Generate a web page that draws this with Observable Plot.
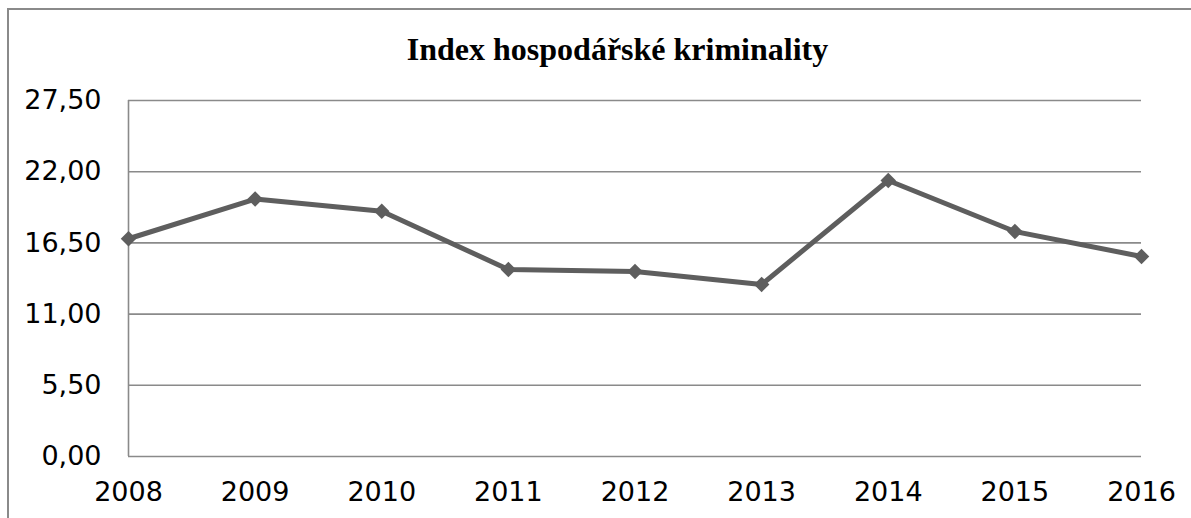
<!DOCTYPE html>
<html>
<head>
<meta charset="utf-8">
<script src="https://cdn.jsdelivr.net/npm/d3@7"></script>
<script src="https://cdn.jsdelivr.net/npm/@observablehq/plot@0.6"></script>
<style>
  html, body { margin: 0; padding: 0; background: #fff; }
  #wrap { position: relative; width: 1191px; height: 518px; overflow: hidden; }
  #frame { position: absolute; left: 7px; top: 8px; width: 1200px; height: 530px; border-left: 2px solid #8a8a8a; border-top: 2px solid #8a8a8a; box-sizing: border-box; }
  #title { position: absolute; left: 0; top: 33px; width: 1235px; text-align: center; font-family: "Liberation Serif", "Times New Roman", serif; font-weight: bold; font-size: 32px; line-height: 32px; color: #000; white-space: nowrap; }
  #chart { position: absolute; left: 0; top: 0; }
</style>
</head>
<body>
<div id="wrap">
  <div id="frame"></div>
  <div id="title">Index hospodářské kriminality</div>
  <div id="chart"></div>
</div>
<script>
const years = [2008, 2009, 2010, 2011, 2012, 2013, 2014, 2015, 2016];
const values = [16.82, 19.89, 18.95, 14.45, 14.29, 13.29, 21.32, 17.38, 15.45];
const yTicks = [0, 5.5, 11, 16.5, 22, 27.5];

const data = years.map((y, i) => ({year: y, value: values[i]}));
const fmt = d => d.toFixed(2).replace(".", ",");

const lineColor = "#5e5e5e";
const gridColor = "#8a8a8a";

const chart = Plot.plot({
  width: 1191,
  height: 518,
  marginLeft: 128,
  marginRight: 50,
  marginTop: 100,
  marginBottom: 62,
  style: {fontFamily: "Verdana, 'DejaVu Sans', sans-serif", fontSize: "27px", color: "#000", background: "transparent", overflow: "visible"},
  x: {domain: [2008, 2016], ticks: years, tickFormat: d => String(d), label: null},
  y: {domain: [0, 27.5], ticks: yTicks, tickFormat: fmt, label: null},
  marks: [
    Plot.ruleY(yTicks, {stroke: gridColor, strokeWidth: 1.6}),
    Plot.ruleX([2008], {y1: 0, y2: 27.5, stroke: gridColor, strokeWidth: 1.6}),
    Plot.axisY({ticks: yTicks, tickFormat: fmt, tickSize: 0, tickPadding: 27, fontSize: 27, fill: "#000", label: null}),
    Plot.axisX({ticks: years, tickFormat: d => String(d), tickSize: 0, tickPadding: 25, fontSize: 27, fill: "#000", label: null}),
    Plot.line(data, {x: "year", y: "value", stroke: lineColor, strokeWidth: 5}),
    Plot.dot(data, {x: "year", y: "value", symbol: "diamond2", r: 7, fill: lineColor, stroke: "none"})
  ]
});
document.getElementById("chart").appendChild(chart);
</script>
</body>
</html>
